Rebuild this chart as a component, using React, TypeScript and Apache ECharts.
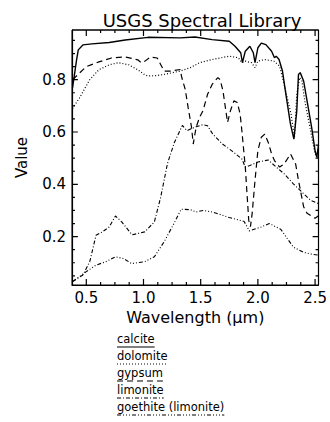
import React, { useEffect, useRef } from "react";
import * as echarts from "echarts";

// ---- data (wavelength in µm, reflectance value) ----
const calciteWl = [0.38, 0.4, 0.415, 0.43, 0.47, 0.55, 0.7, 0.84, 1.04, 1.32, 1.45, 1.6, 1.75, 1.8, 1.85, 1.865, 1.89, 1.93, 1.96, 1.975, 2.0, 2.03, 2.07, 2.12, 2.145, 2.16, 2.185, 2.215, 2.245, 2.285, 2.315, 2.34, 2.355, 2.37, 2.4, 2.43, 2.47, 2.5, 2.515, 2.53];
const calciteVal = [0.77, 0.83, 0.876, 0.914, 0.933, 0.937, 0.942, 0.952, 0.962, 0.96, 0.963, 0.953, 0.947, 0.928, 0.903, 0.865, 0.909, 0.928, 0.903, 0.865, 0.922, 0.94, 0.934, 0.909, 0.884, 0.89, 0.877, 0.833, 0.744, 0.63, 0.573, 0.681, 0.82, 0.827, 0.795, 0.719, 0.618, 0.529, 0.504, 0.55];

const dolomiteWl = [0.38, 0.44, 0.53, 0.61, 0.7, 0.78, 0.87, 0.95, 1.01, 1.04, 1.12, 1.18, 1.32, 1.41, 1.49, 1.6, 1.75, 1.83, 1.86, 1.89, 1.945, 1.975, 2.0, 2.06, 2.14, 2.19, 2.23, 2.29, 2.32, 2.34, 2.365, 2.385, 2.41, 2.455, 2.5, 2.53];
const dolomiteVal = [0.69, 0.73, 0.8, 0.838, 0.857, 0.865, 0.857, 0.838, 0.819, 0.814, 0.816, 0.82, 0.833, 0.846, 0.865, 0.877, 0.89, 0.884, 0.865, 0.871, 0.865, 0.846, 0.871, 0.877, 0.871, 0.852, 0.782, 0.668, 0.58, 0.744, 0.808, 0.795, 0.719, 0.618, 0.516, 0.497];

const gypsumWl = [0.38, 0.5, 0.61, 0.72, 0.84, 0.95, 0.98, 1.01, 1.06, 1.12, 1.15, 1.18, 1.24, 1.32, 1.335, 1.365, 1.39, 1.42, 1.435, 1.46, 1.49, 1.52, 1.56, 1.6, 1.65, 1.67, 1.695, 1.72, 1.735, 1.76, 1.79, 1.82, 1.845, 1.86, 1.89, 1.905, 1.92, 1.935, 1.95, 1.975, 2.0, 2.03, 2.06, 2.09, 2.12, 2.145, 2.19, 2.23, 2.285, 2.33, 2.355, 2.4, 2.43, 2.5, 2.53];
const gypsumVal = [0.8, 0.85, 0.868, 0.883, 0.887, 0.876, 0.865, 0.87, 0.887, 0.883, 0.858, 0.833, 0.833, 0.839, 0.808, 0.763, 0.694, 0.618, 0.554, 0.618, 0.656, 0.681, 0.744, 0.782, 0.808, 0.8, 0.757, 0.681, 0.637, 0.681, 0.719, 0.713, 0.668, 0.605, 0.466, 0.364, 0.263, 0.238, 0.289, 0.415, 0.529, 0.58, 0.592, 0.561, 0.516, 0.491, 0.466, 0.478, 0.516, 0.478, 0.415, 0.314, 0.289, 0.27, 0.28];

const limoniteWl = [0.38, 0.47, 0.53, 0.585, 0.64, 0.7, 0.755, 0.81, 0.9, 1.01, 1.095, 1.15, 1.21, 1.27, 1.34, 1.38, 1.41, 1.46, 1.52, 1.56, 1.605, 1.69, 1.775, 1.86, 1.89, 1.93, 2.0, 2.09, 2.16, 2.23, 2.31, 2.4, 2.46, 2.53];
const limoniteVal = [0.028, 0.053, 0.104, 0.205, 0.218, 0.237, 0.279, 0.256, 0.207, 0.218, 0.256, 0.35, 0.48, 0.56, 0.625, 0.605, 0.611, 0.62, 0.628, 0.624, 0.592, 0.554, 0.527, 0.497, 0.466, 0.472, 0.485, 0.493, 0.466, 0.44, 0.402, 0.364, 0.339, 0.326];

const goethiteWl = [0.38, 0.5, 0.585, 0.67, 0.755, 0.826, 0.896, 1.01, 1.095, 1.18, 1.265, 1.33, 1.41, 1.46, 1.52, 1.605, 1.75, 1.88, 1.925, 2.03, 2.1, 2.2, 2.31, 2.4, 2.48, 2.53];
const goethiteVal = [0.028, 0.066, 0.091, 0.104, 0.123, 0.116, 0.097, 0.104, 0.123, 0.18, 0.249, 0.305, 0.303, 0.294, 0.3, 0.294, 0.273, 0.258, 0.222, 0.237, 0.25, 0.228, 0.16, 0.14, 0.132, 0.129];

const seriesNames = ["calcite", "dolomite", "gypsum", "limonite", "goethite (limonite)"];
const seriesWl = [calciteWl, dolomiteWl, gypsumWl, limoniteWl, goethiteWl];
const seriesVal = [calciteVal, dolomiteVal, gypsumVal, limoniteVal, goethiteVal];
const seriesDash: (number[] | "solid")[] = ["solid", [1, 2], [6, 4], [4, 2, 1, 2], [4, 2, 1, 2, 1, 2, 1, 2]];
const seriesWidth = [1.4, 1.2, 1.2, 1.1, 1.1];

// tick marks (the major ones carry the labels)
const xTicks = [0.5, 0.625, 0.75, 0.875, 1.0, 1.125, 1.25, 1.375, 1.5, 1.625, 1.75, 1.875, 2.0, 2.125, 2.25, 2.375, 2.5];
const xMajorTicks = [0.5, 1.0, 1.5, 2.0, 2.5];
const yTicks = [0.05, 0.1, 0.15, 0.2, 0.25, 0.3, 0.35, 0.4, 0.45, 0.5, 0.55, 0.6, 0.65, 0.7, 0.75, 0.8, 0.85, 0.9, 0.95];
const yMajorTicks = [0.2, 0.4, 0.6, 0.8];

const titleText = "USGS Spectral Library";
const xName = "Wavelength (\u03bcm)";
const yName = "Value";

const FONT = "DejaVu Sans";
const X_MIN = 0.375;
const X_MAX = 2.53;
const Y_MIN = 0.015;
const Y_MAX = 0.99;
const GRID = { left: 72, top: 30, width: 251, height: 255 };
const MAJOR_LEN = 6;
const MINOR_LEN = 3;

// legend block (its own small grid, in pixel units)
const LEG = { left: 117, top: 333, width: 130, height: 86 };
const LEG_STEP = 17;
const LEG_FONT = 11.5;

function measure(text: string, size: number): number {
  const c = document.createElement("canvas").getContext("2d");
  if (!c) return text.length * size * 0.55;
  c.font = `${size}px "${FONT}"`;
  return c.measureText(text).width;
}

const isMajor = (v: number, majors: number[]) => majors.some((m) => Math.abs(m - v) < 1e-9);

export default function App() {
  const ref = useRef<HTMLDivElement>(null);

  useEffect(() => {
    document.body.style.margin = "0";
    if (!ref.current) return;
    const chart = echarts.init(ref.current, null, { renderer: "svg" });

    const pxPerX = GRID.width / (X_MAX - X_MIN);
    const pxPerY = GRID.height / (Y_MAX - Y_MIN);
    const gap = ["-", "-"];
    const xTickData: any[] = [];
    xTicks.forEach((v) => {
      const len = (isMajor(v, xMajorTicks) ? MAJOR_LEN : MINOR_LEN) / pxPerY;
      xTickData.push([v, Y_MIN], [v, Y_MIN + len], gap, [v, Y_MAX], [v, Y_MAX - len], gap);
    });
    const yTickData: any[] = [];
    yTicks.forEach((v) => {
      const len = (isMajor(v, yMajorTicks) ? MAJOR_LEN : MINOR_LEN) / pxPerX;
      yTickData.push([X_MIN, v], [X_MIN + len, v], gap, [X_MAX, v], [X_MAX - len, v], gap);
    });

    const helperLine = (data: any[]) => ({
      type: "line",
      xAxisIndex: 0,
      yAxisIndex: 0,
      showSymbol: false,
      symbol: "none",
      clip: false,
      connectNulls: false,
      data,
      lineStyle: { color: "#000", width: 1.2, type: "solid" },
      emphasis: { disabled: true },
    });

    const legendTitles = seriesNames.map((name, i) => ({
      text: name,
      left: LEG.left,
      top: LEG.top + i * LEG_STEP,
      padding: 0,
      textStyle: { color: "#000", fontFamily: FONT, fontSize: LEG_FONT, fontWeight: "normal" },
    }));

    const legendLines = seriesNames.map((name, i) => ({
      type: "line",
      xAxisIndex: 1,
      yAxisIndex: 1,
      showSymbol: false,
      symbol: "none",
      clip: false,
      data: [
        [0, 14 + i * LEG_STEP],
        [measure(name, LEG_FONT), 14 + i * LEG_STEP],
      ],
      lineStyle: { color: "#000", width: 1.1, type: seriesDash[i] },
      emphasis: { disabled: true },
    }));

    const axisTextStyle = { color: "#000", fontFamily: FONT, fontSize: 15 };

    const option: any = {
      animation: false,
      backgroundColor: "#fff",
      title: [
        {
          text: titleText,
          left: 197,
          textAlign: "center",
          top: 6,
          textStyle: { color: "#000", fontFamily: FONT, fontSize: 18, fontWeight: "normal" },
        },
        ...legendTitles,
      ],
      grid: [
        { ...GRID, show: true, borderColor: "#000", borderWidth: 1 },
        { ...LEG, show: false },
      ],
      xAxis: [
        {
          type: "value",
          gridIndex: 0,
          min: X_MIN,
          max: X_MAX,
          minInterval: 0.5,
          maxInterval: 0.5,
          axisLine: { show: true, onZero: false, lineStyle: { color: "#000", width: 1.2 } },
          axisTick: { show: false },
          axisLabel: {
            show: true,
            ...axisTextStyle,
            margin: 5,
            showMinLabel: false,
            showMaxLabel: false,
            formatter: (v: number) => v.toFixed(1),
          },
          splitLine: { show: false },
          name: xName,
          nameLocation: "middle",
          nameGap: 21,
          nameTextStyle: { color: "#000", fontFamily: FONT, fontSize: 16 },
        },
        { type: "value", gridIndex: 1, min: 0, max: LEG.width, show: false },
      ],
      yAxis: [
        {
          type: "value",
          gridIndex: 0,
          min: Y_MIN,
          max: Y_MAX,
          minInterval: 0.2,
          maxInterval: 0.2,
          axisLine: { show: true, onZero: false, lineStyle: { color: "#000", width: 1.2 } },
          axisTick: { show: false },
          axisLabel: {
            show: true,
            ...axisTextStyle,
            margin: 6,
            showMinLabel: false,
            showMaxLabel: false,
            formatter: (v: number) => v.toFixed(1),
          },
          splitLine: { show: false },
          name: yName,
          nameLocation: "middle",
          nameGap: 43,
          nameTextStyle: { color: "#000", fontFamily: FONT, fontSize: 15 },
        },
        { type: "value", gridIndex: 1, min: 0, max: LEG.height, inverse: true, show: false },
      ],
      series: [
        ...seriesNames.map((name, i) => ({
          name,
          type: "line",
          xAxisIndex: 0,
          yAxisIndex: 0,
          showSymbol: false,
          symbol: "none",
          data: seriesWl[i].map((x, j) => [x, seriesVal[i][j]]),
          lineStyle: { color: "#000", width: seriesWidth[i], type: seriesDash[i] },
          emphasis: { disabled: true },
        })),
        helperLine([[X_MIN, Y_MAX], [X_MAX, Y_MAX], [X_MAX, Y_MIN]]),
        helperLine(xTickData),
        helperLine(yTickData),
        ...legendLines,
      ],
    };

    chart.setOption(option);
    return () => chart.dispose();
  }, []);

  return <div ref={ref} style={{ width: 330, height: 422, background: "#fff" }} />;
}
